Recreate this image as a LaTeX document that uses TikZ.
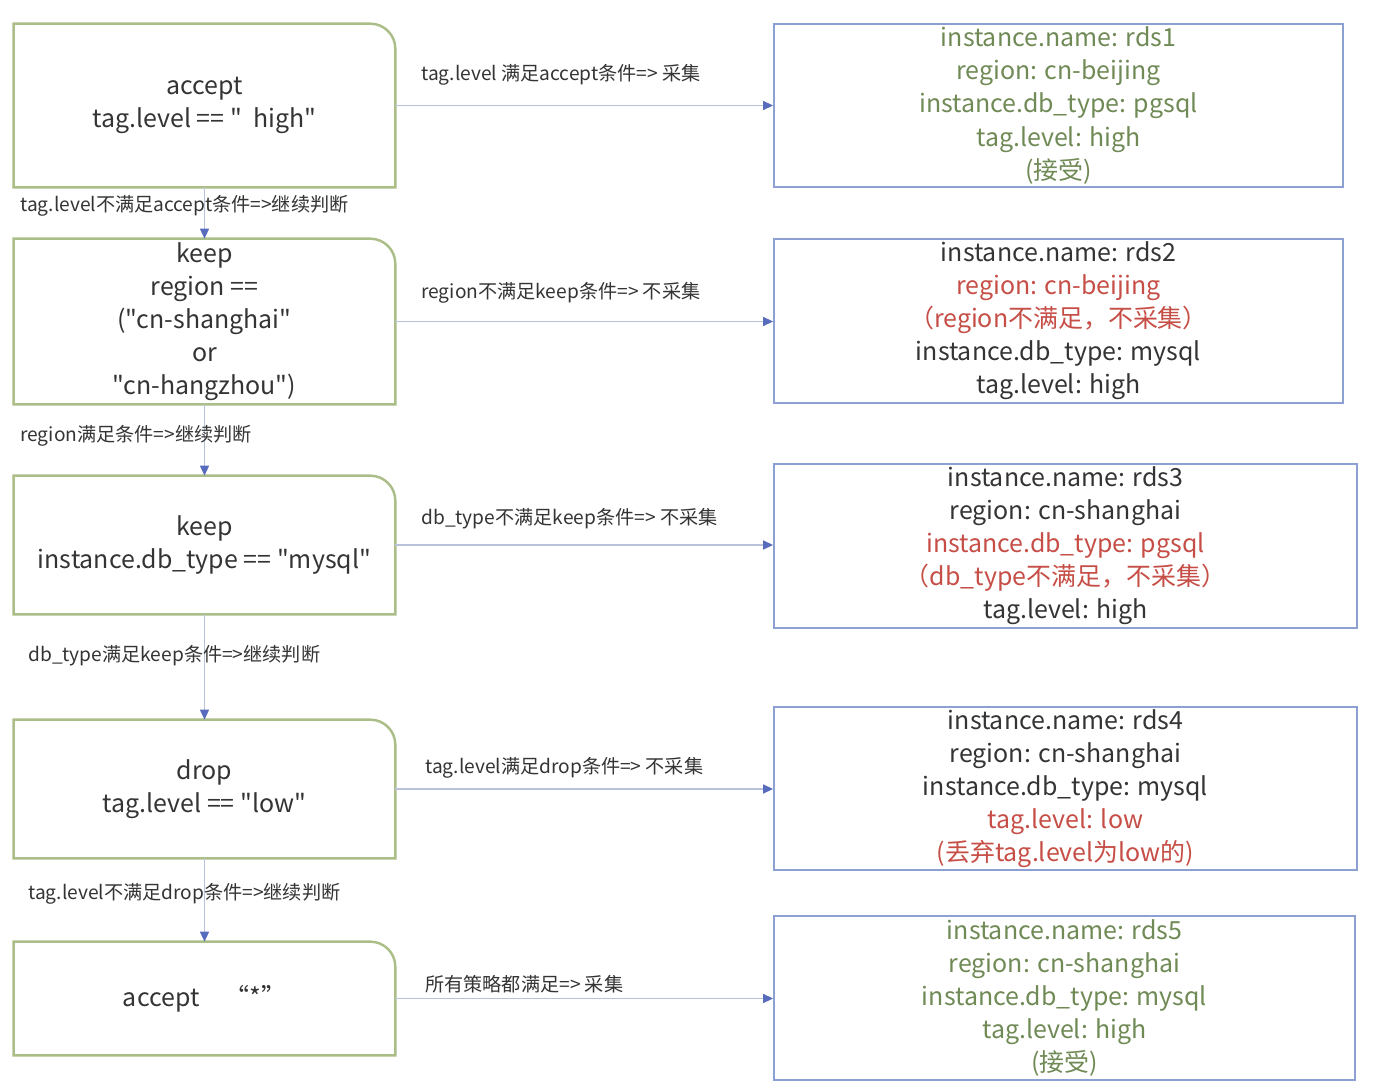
\documentclass[tikz,border=0pt]{standalone}
\usepackage{fontspec}
\setmainfont{Noto Sans CJK SC}[Ligatures=TeXOff]
\usepackage{xcolor}
\usepackage{tikz}
\usetikzlibrary{arrows.meta}

\definecolor{rimgreen}{RGB}{172,190,136}
\definecolor{rimblue}{RGB}{140,160,212}
\definecolor{linegray}{RGB}{184,194,218}
\definecolor{tipblue}{RGB}{88,108,190}
\definecolor{inkgray}{RGB}{52,52,52}
\definecolor{okgreen}{RGB}{112,138,86}
\definecolor{warnred}{RGB}{198,78,70}

\tikzset{
  rule/.style={minimum width=7.62cm, inner sep=0pt, align=center, text=inkgray,
    font=\fontsize{14.2}{18.8}\selectfont},
  rim/.style={draw=rimgreen, line width=1.4pt},
  rds/.style={draw=rimblue, line width=1.1pt, inner sep=0pt, align=center, text=inkgray,
    font=\fontsize{14.2}{18.8}\selectfont},
  flow/.style={draw=linegray, line width=0.8pt, -{Triangle[length=0.2cm, width=0.18cm, color=tipblue]}},
  hint/.style={anchor=west, inner sep=0pt, text=inkgray, font=\fontsize{10.9}{12}\selectfont}
}

\begin{document}
\begin{tikzpicture}[x=0.02cm, y=-0.02cm]
\fill[white] (0,0) rectangle (1400,1091);
\useasboundingbox (0,0) rectangle (1400,1091);

% rules on the left
\node[rule, minimum height=3.26cm] (acc) at (204.5,105.5) {accept\\tag.level == "\ \ high"};
\node[rule, minimum height=3.30cm] (reg) at (204.5,321.5) {keep\\region ==\\("cn-shanghai"\\or\\"cn-hangzhou")};
\node[rule, minimum height=2.76cm] (dbt) at (204.5,545) {keep\\instance.db\_type == "mysql"};
\node[rule, minimum height=2.76cm] (drp) at (204.5,789) {drop\\tag.level == "low"};
\node[rule, minimum height=2.26cm] (all) at (204.5,998.5) {accept\quad “*”};

\foreach \n in {acc,reg,dbt,drp,all}
  \draw[rim] (\n.south west) -- (\n.north west) -- ([xshift=-0.5cm]\n.north east)
    arc[start angle=90, end angle=0, radius=0.5cm] -- (\n.south east) -- cycle;

% instances on the right
\node[rds, minimum width=11.38cm, minimum height=3.26cm] (rds1) at (1058.5,105.5)
  {\color{okgreen}instance.name: rds1\\\color{okgreen}region: cn-beijing\\\color{okgreen}instance.db\_type: pgsql\\\color{okgreen}tag.level: high\\\color{okgreen}(接受)};
\node[rds, minimum width=11.38cm, minimum height=3.28cm] (rds2) at (1058.5,321)
  {instance.name: rds2\\\textcolor{warnred}{region: cn-beijing}\\\textcolor{warnred}{（region不满足，不采集）}\\instance.db\_type: mysql\\tag.level: high};
\node[rds, minimum width=11.66cm, minimum height=3.28cm] (rds3) at (1065.5,546)
  {instance.name: rds3\\region: cn-shanghai\\\textcolor{warnred}{instance.db\_type: pgsql}\\\textcolor{warnred}{（db\_type不满足，不采集）}\\tag.level: high};
\node[rds, minimum width=11.66cm, minimum height=3.26cm] (rds4) at (1065.5,788.5)
  {instance.name: rds4\\region: cn-shanghai\\instance.db\_type: mysql\\\textcolor{warnred}{tag.level: low}\\\textcolor{warnred}{(丢弃tag.level为low的)}};
\node[rds, minimum width=11.62cm, minimum height=3.28cm] (rds5) at (1064.5,998)
  {\color{okgreen}instance.name: rds5\\\color{okgreen}region: cn-shanghai\\\color{okgreen}instance.db\_type: mysql\\\color{okgreen}tag.level: high\\\color{okgreen}(接受)};

% connectors
\draw[flow] (acc) -- (reg);
\draw[flow] (reg) -- (dbt);
\draw[flow] (dbt) -- (drp);
\draw[flow] (drp) -- (all);
\draw[flow] (acc.east) -- (acc.east -| rds1.west);
\draw[flow] (reg.east) -- (reg.east -| rds2.west);
\draw[flow] (dbt.east) -- (dbt.east -| rds3.west);
\draw[flow] (drp.east) -- (drp.east -| rds4.west);
\draw[flow] (all.east) -- (all.east -| rds5.west);

% labels
\node[hint] (h1) at (421,75) {tag.level 满足accept条件=> 采集};
\node[hint] (h2) at (421,293) {region不满足keep条件=> 不采集};
\node[hint] (h3) at (421,519) {db\_type不满足keep条件=> 不采集};
\node[hint] (h4) at (425,768) {tag.level满足drop条件=> 不采集};
\node[hint] (h5) at (425,984) {所有策略都满足=> 采集};
\node[hint] (v1) at (20,206) {tag.level不满足accept条件=>继续判断};
\node[hint] (v2) at (20,436) {region满足条件=>继续判断};
\node[hint] (v3) at (28,656) {db\_type满足keep条件=>继续判断};
\node[hint] (v4) at (28,894) {tag.level不满足drop条件=>继续判断};
\end{tikzpicture}
\end{document}
